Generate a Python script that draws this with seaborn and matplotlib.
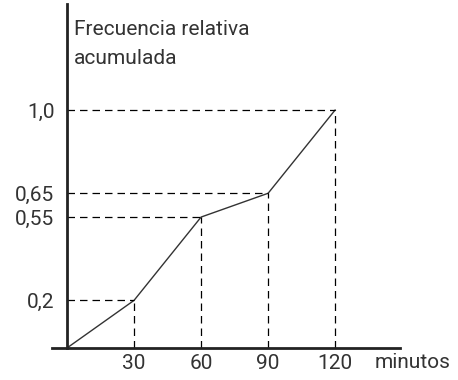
import numpy as np
import pandas as pd
import seaborn as sns
from matplotlib import pyplot as plt

# Data
minutos = [0, 30, 60, 90, 120]
frecuencia = [0.0, 0.2, 0.55, 0.65, 1.0]
y_labels = ['0,2', '0,55', '0,65', '1,0']
x_labels = ['30', '60', '90', '120']

df = pd.DataFrame({'minutos': minutos, 'frecuencia': frecuencia})

sns.set_style('white')
plt.rcParams['font.family'] = ['Roboto', 'DejaVu Sans']

fig = plt.figure(figsize=(4.58, 3.8), dpi=100)
ax = fig.add_axes([52 / 458, 32 / 380, (400 - 52) / 458, (348 - 4) / 380])

# Curve
sns.lineplot(data=df, x='minutos', y='frecuencia', ax=ax, color='#333333', linewidth=1.0)

# Dashed guides
for xv, yv in zip(minutos[1:], frecuencia[1:]):
    ax.plot([0, xv], [yv, yv], color='black', linestyle=(0, (6, 4)), linewidth=0.9)
    ax.plot([xv, xv], [0, yv], color='black', linestyle=(0, (6, 4)), linewidth=0.9)

ax.set_xlim(-6.7, 149)
ax.set_ylim(0, 1.445)

# Axes settings
for side in ['top', 'right']:
    ax.spines[side].set_visible(False)
ax.spines['left'].set_position(('data', 0))
ax.spines['left'].set_linewidth(2)
ax.spines['bottom'].set_linewidth(2)
ax.spines['left'].set_color('#222222')
ax.spines['bottom'].set_color('#222222')

txt_color = '#333333'
fs = 15

ax.set_xticks(minutos[1:])
ax.set_xticklabels(x_labels, fontsize=fs, color=txt_color)
ax.set_yticks(frecuencia[1:])
ax.set_yticklabels(y_labels, fontsize=fs, color=txt_color)
ax.tick_params(axis='x', length=0, pad=4)
ax.tick_params(axis='y', length=0, pad=9)
ax.set_xlabel('')
ax.set_ylabel('')

fig.text(74 / 458, 1 - 20 / 380, 'Frecuencia relativa\nacumulada', fontsize=fs,
         color=txt_color, va='top', ha='left', linespacing=1.7)
fig.text(375 / 458, 1 - 363 / 380, 'minutos', fontsize=fs,
         color=txt_color, va='center', ha='left')

plt.savefig('out.png', dpi=100)
